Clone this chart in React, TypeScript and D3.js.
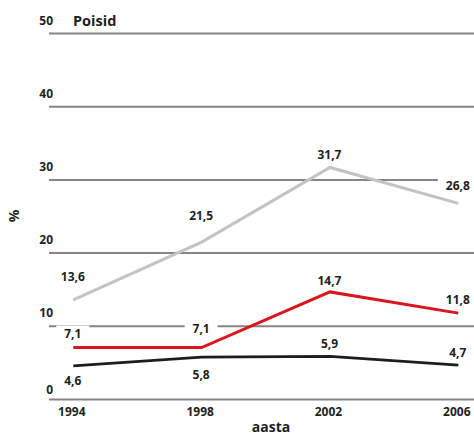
import React from "react";
import * as d3 from "d3";

const years = [1994, 1998, 2002, 2006];
const yTicks = [0, 10, 20, 30, 40, 50];
const grayValues = [13.6, 21.5, 31.7, 26.8];
const redValues = [7.1, 7.1, 14.7, 11.8];
const blackValues = [4.6, 5.8, 5.9, 4.7];
const grayLabels = ["13,6", "21,5", "31,7", "26,8"];
const redLabels = ["7,1", "7,1", "14,7", "11,8"];
const blackLabels = ["4,6", "5,8", "5,9", "4,7"];
// label baseline offsets (px) relative to point
const grayDy = [-19, -22, -8, -13];
const redDy = [-10, -15, -7, -9];
const blackDy = [19, 22, -8, -8];

const W = 474;
const H = 435;
const FONT = "'Open Sans', 'DejaVu Sans', sans-serif";

export default function App() {
  const x = d3.scalePoint<number>().domain(years).range([73.3, 458.3]);
  const y = d3.scaleLinear().domain([0, 50]).range([399.5, 33.5]);
  const line = d3
    .line<number>()
    .x((_, i) => x(years[i]) as number)
    .y((d) => y(d));

  const series = [
    { values: grayValues, labels: grayLabels, dy: grayDy, color: "#c3c3c3", width: 3 },
    { values: redValues, labels: redLabels, dy: redDy, color: "#d9161e", width: 3 },
    { values: blackValues, labels: blackLabels, dy: blackDy, color: "#1d1d1b", width: 2.8 },
  ];

  const labelItems: { x: number; y: number; text: string }[] = [];
  series.forEach((s) =>
    s.values.forEach((v, i) => {
      labelItems.push({ x: (x(years[i]) as number) - 0.5, y: y(v) + s.dy[i], text: s.labels[i] });
    })
  );

  return (
    <svg
      width={W}
      height={H}
      style={{ position: "absolute", left: 0, top: 0, background: "#fff" }}
      fontFamily={FONT}
    >
      {yTicks.map((t) => (
        <line
          key={"g" + t}
          x1={49}
          x2={W}
          y1={y(t)}
          y2={y(t)}
          stroke="#858585"
          strokeWidth={2}
        />
      ))}
      {yTicks.map((t) => (
        <text
          key={"t" + t}
          x={53}
          y={y(t) - (t === 0 ? 6 : 9)}
          textAnchor="end"
          fontSize={12}
          fontWeight={700}
          fill="#231f20"
        >
          {t}
        </text>
      ))}
      <text x={73} y={25.5} fontSize={14.5} fontWeight={700} fill="#231f20">
        Poisid
      </text>
      {labelItems.map((l, i) => {
        const w = l.text.length * 7 + 12;
        return (
          <rect key={"b" + i} x={l.x - w / 2} y={l.y - 12} width={w} height={15} fill="#fff" />
        );
      })}
      {series.map((s, k) => (
        <path
          key={"s" + k}
          d={line(s.values) || ""}
          fill="none"
          stroke={s.color}
          strokeWidth={s.width}
          strokeLinejoin="miter"
        />
      ))}
      {labelItems.map((l, i) => (
        <text
          key={"l" + i}
          x={l.x}
          y={l.y}
          textAnchor="middle"
          fontSize={12}
          fontWeight={700}
          fill="#231f20"
        >
          {l.text}
        </text>
      ))}
      {years.map((yr) => (
        <text
          key={"x" + yr}
          x={(x(yr) as number) - 1.5}
          y={415.5}
          textAnchor="middle"
          fontSize={12}
          fontWeight={700}
          fill="#231f20"
        >
          {yr}
        </text>
      ))}
      <text x={271} y={432} textAnchor="middle" fontSize={14} fontWeight={700} fill="#231f20">
        aasta
      </text>
      <text
        transform={`translate(19,216) rotate(-90)`}
        textAnchor="middle"
        fontSize={14}
        fontWeight={700}
        fill="#231f20"
      >
        %
      </text>
    </svg>
  );
}
